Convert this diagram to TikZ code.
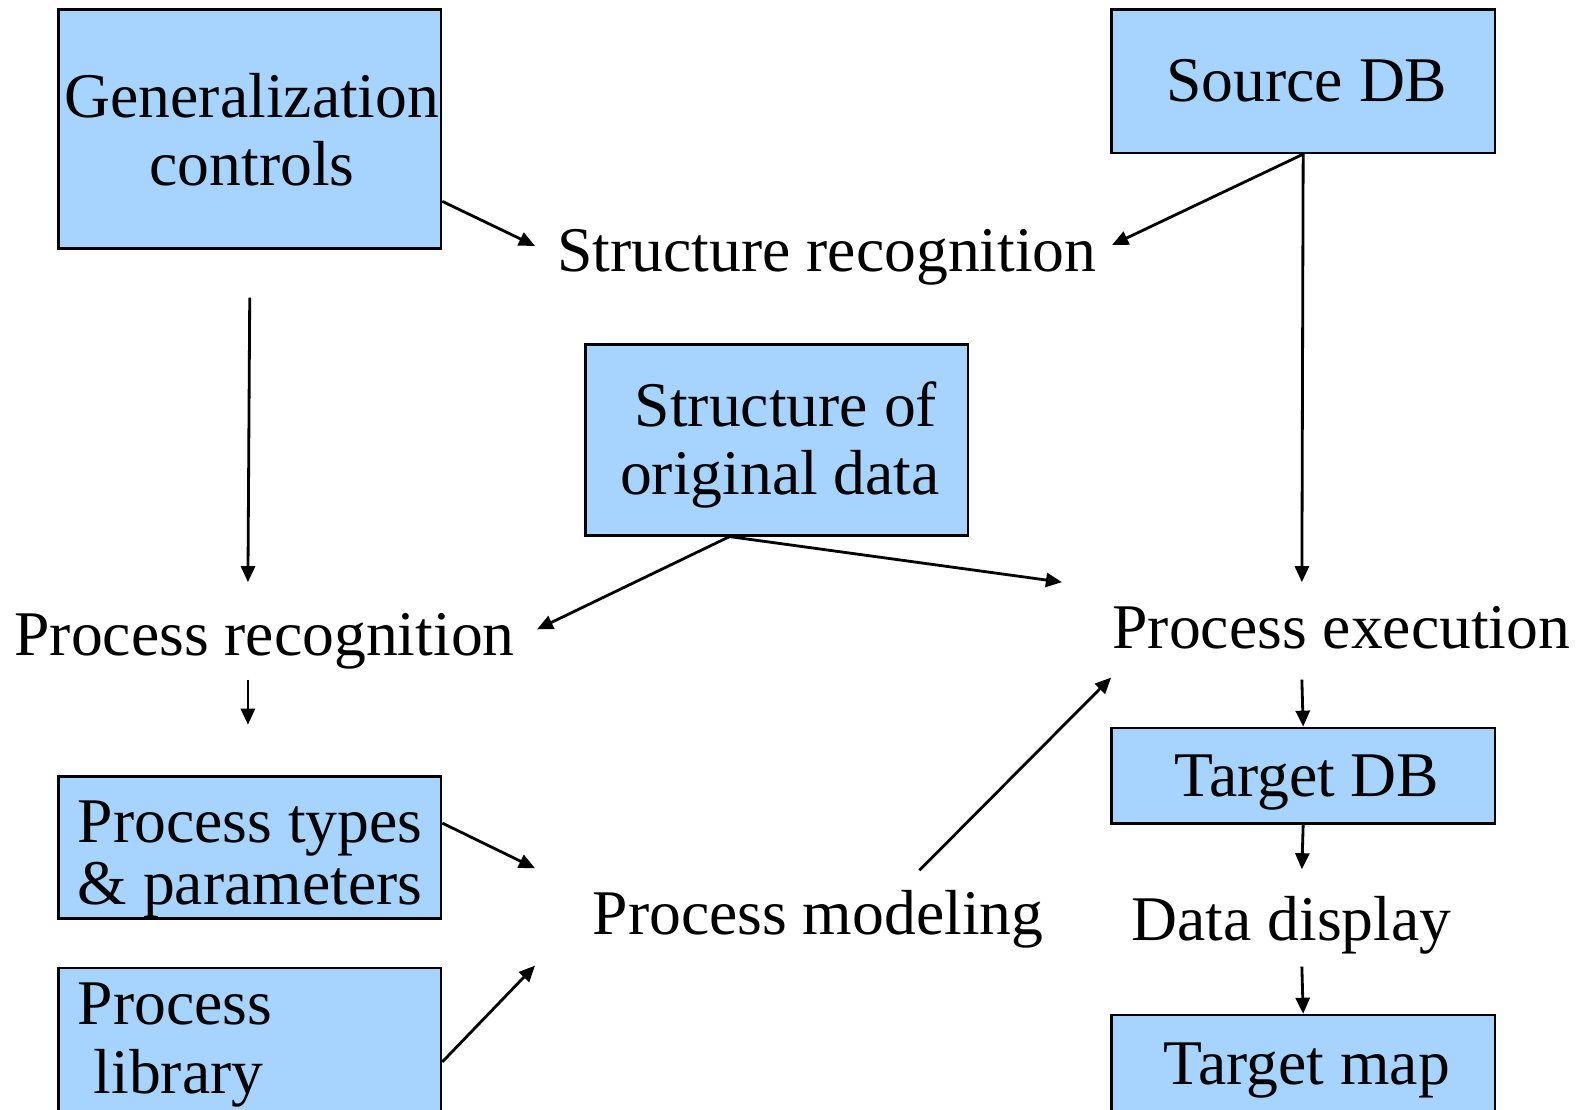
\documentclass[tikz,border=0pt]{standalone}
\usepackage{fontspec}
\setmainfont{Liberation Serif}
\usetikzlibrary{arrows.meta,calc}
\definecolor{boxblue}{RGB}{166,212,255}
\tikzset{
  box/.style={draw=black, fill=boxblue, line width=1.3pt, rectangle, inner sep=0pt, anchor=north west},
  txt/.style={inner sep=0pt, font=\fontsize{31.7}{34}\selectfont},
  conn/.style={line width=1.4pt, -{Triangle[length=8pt,width=7pt]}},
}
\begin{document}
\begin{tikzpicture}[x=0.5pt,y=-0.5pt]
\useasboundingbox (0,0) rectangle (1571.1,1105.8);
\clip (0,0) rectangle (1571.1,1105.8);
% boxes
\node[box, minimum width=190.5pt, minimum height=119pt] (gc) at (57,8) {};
\node[box, minimum width=191pt, minimum height=71.5pt] (sdb) at (1106,8) {};
\node[box, minimum width=190.5pt, minimum height=95pt] (sod) at (582,342) {};
\node[box, minimum width=190.5pt, minimum height=71pt] (pt) at (57,772) {};
\node[box, minimum width=190.5pt, minimum height=90pt] (pl) at (57,963) {};
\node[box, minimum width=191pt, minimum height=47.5pt] (tdb) at (1106,724) {};
\node[box, minimum width=191pt, minimum height=70pt] (tm) at (1106,1010) {};
% box texts (anchor = baseline of last line)
\node[txt, align=center, anchor=base] (gct) at (251,185) {Generalization\\controls};
\node[txt, anchor=base] (sdbt) at (1302,101) {Source DB};
\node[txt, align=center, anchor=base] (sodt) at (777,493) {\hspace*{6pt}Structure of\\original data};
\node[txt, align=left, anchor=base west, font=\fontsize{31.7}{31}\selectfont] (ptt) at (77,901) {Process types\\\& parameters};
\node[txt, align=left, anchor=base west] (plt) at (77,1089) {Process\\\hspace*{8pt}library};
\node[txt, anchor=base] (tdbt) at (1302,794) {Target DB};
\node[txt, anchor=base] (tmt) at (1302,1080) {Target map};
% process texts
\node[txt, anchor=base west] (sr) at (555,270) {Structure recognition};
\node[txt, anchor=base west] (pr) at (14,653) {Process recognition};
\node[txt, anchor=base west] (pe) at (1108,646) {Process execution};
\node[txt, anchor=base west] (pm) at (590,931) {Process modeling};
\node[txt, anchor=base west] (dd) at (1127,937) {Data display};
% connector end points
\coordinate (srW) at (533,245);
\coordinate (srE) at (1108,244);
\coordinate (prN) at (247,580);
\coordinate (prE) at (535,627);
\coordinate (prS) at (247,677);
\coordinate (peN) at (1297,580);
\coordinate (peNW) at (1058,580);
\coordinate (peS) at (1297,677);
\coordinate (peSW) at (1107,675);
\coordinate (ptS) at (247,722);
\coordinate (pmNW) at (533,865);
\coordinate (pmW) at (533,962);
\coordinate (pmNE) at (916,867);
\coordinate (ddN) at (1297,866);
\coordinate (ddS) at (1297,963);
% connectors
\draw[conn] ($(gc.south east)+(0,-48)$) -- (srW);
\draw[conn] (sdb.south) -- (srE);
\draw[conn] (sdb.south) -- (peN);
\draw[conn] ($(gc.south)+(0,48)$) -- (prN);
\draw[conn] ($(sod.south)+(-47,0)$) -- (prE);
\draw[conn] ($(sod.south)+(-47,0)$) -- (peNW);
\draw[conn] (prS) -- (ptS);
\draw[conn] (peS) -- (tdb.north);
\draw[conn] (tdb.south) -- (ddN);
\draw[conn] (ddS) -- (tm.north);
\draw[conn] ($(pt.north east)+(0,48)$) -- (pmNW);
\draw[conn] ($(pl.north east)+(0,95)$) -- (pmW);
\draw[conn] (pmNE) -- (peSW);
\end{tikzpicture}
\end{document}
